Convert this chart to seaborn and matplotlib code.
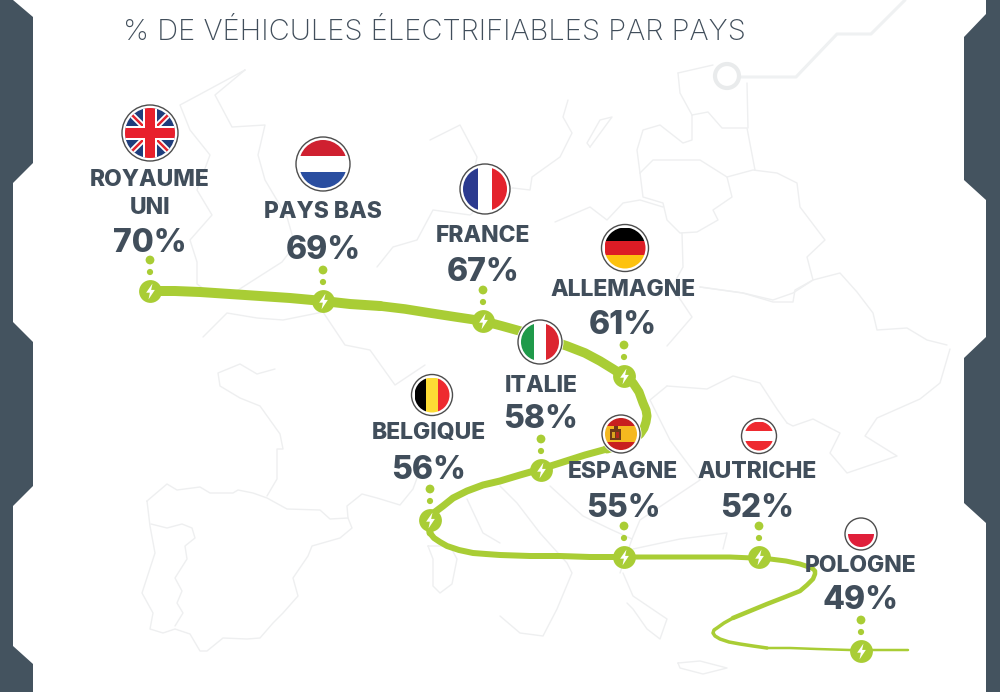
import pandas as pd
import matplotlib.pyplot as plt
from matplotlib.patches import Circle, Polygon, Rectangle
from matplotlib.path import Path
import seaborn as sns

sns.set_theme(style="white")
plt.rcParams['font.family'] = ['Inter', 'DejaVu Sans']

DARK = "#414e5b"
BAND = "#44535f"
GREEN = "#a9cd35"
MAPC = "#eeeff0"

title = "% DE VÉHICULES ÉLECTRIFIABLES PAR PAYS"
countries = ["ROYAUME\nUNI", "PAYS BAS", "FRANCE", "ALLEMAGNE", "ITALIE", "BELGIQUE", "ESPAGNE", "AUTRICHE", "POLOGNE"]
percents = [70, 69, 67, 61, 58, 56, 55, 52, 49]

# stations along the route, picture coordinates
station_x = [150, 323, 483, 624, 541, 430, 624, 759, 861]
station_y = [291, 301, 321, 376, 470, 520, 557, 557, 651]
name_y = [192, 210, 234, 288, 383, 431, 470, 470, 563]
value_y = [240, 247, 269, 322, 416, 467, 505, 505, 597]
label_x = [150, 323, 483, 623, 541, 429, 623, 757, 861]

flag_x = [150, 323, 485, 625, 540, 432, 621, 759, 861]
flag_y = [133, 164, 189, 248, 342, 395, 434, 436, 534]
flag_r = [28, 27, 25, 23.5, 22, 20.5, 19, 17.5, 16]
flag_colors = [
    ["#1f3d7c"],
    ["#cf2030", "#ffffff", "#2a4ea0"],
    ["#2b3a8f", "#ffffff", "#e4232c"],
    ["#000000", "#dd1c25", "#fdc20f"],
    ["#1f9a4a", "#ffffff", "#dc2530"],
    ["#000000", "#fddc35", "#ee2a30"],
    ["#c8201f", "#f5b81f", "#f5b81f", "#c8201f"],
    ["#ee2a30", "#ffffff", "#ee2a30"],
    ["#ffffff", "#e01f3a"],
]
flag_vertical = [False, False, True, False, True, True, False, False, False]

route_x = [
    [150, 175, 200, 230, 260, 290, 323, 350, 380],
    [380, 405, 430, 456, 483, 502, 520, 543, 567, 585, 600, 613, 624],
    [624, 633, 639, 643, 646, 647, 646, 644, 640, 632, 620, 607],
    [607, 585, 560, 541, 520, 500, 483, 467, 453, 443, 435, 430, 429, 430],
    [430, 434, 440, 447, 459, 473, 486, 500, 530, 560, 590, 624],
    [624, 660, 700, 730, 753, 770, 786, 800, 812],
    [812, 815, 815, 813, 807, 800, 785, 767, 750, 733],
    [733, 724, 717, 714, 713, 715, 720, 729, 740, 753, 767],
    [767, 790, 817, 850, 880, 908],
]
route_y = [
    [291, 291, 292, 294, 296, 298, 301, 304, 306],
    [306, 309, 313, 317, 321, 326, 331, 338, 346, 353, 361, 369, 376],
    [376, 383, 392, 403, 410, 416, 422, 428, 434, 440, 445, 449],
    [449, 455, 463, 469, 475, 481, 485, 491, 498, 506, 512, 519, 525, 533],
    [533, 538, 542, 546, 550, 553, 554, 555, 556, 556, 557, 557],
    [557, 557, 557, 557, 558, 559, 561, 564, 568],
    [568, 571, 574, 579, 585, 591, 597, 604, 611, 618],
    [618, 623, 628, 630, 633, 636, 639, 642, 644, 646, 648],
    [648, 648, 649, 650, 650, 650],
]
route_w = [10, 9.5, 9, 7, 6, 5, 4.5, 3.5, 2.5]

band_left = [(0, 0), (13, 0), (33, 17), (33, 163), (13, 183), (13, 322), (33, 342), (33, 486), (13, 506),
             (13, 646), (33, 664), (33, 692), (0, 692)]
band_right = [(1000, 0), (986, 0), (986, 14), (964, 37), (964, 180), (986, 200), (986, 337), (964, 358),
              (964, 503), (986, 523), (986, 692), (1000, 692)]
circuit_x = [740, 796, 837, 871, 905]
circuit_y = [77, 77, 34, 34, 0]

map_lines = [
    [(147, 501), (167, 484), (177, 490), (200, 487), (210, 493), (233, 493), (238, 490), (253, 493), (267, 498),
     (287, 509), (320, 510), (330, 519), (348, 518), (352, 528), (340, 538), (312, 546), (308, 556), (293, 578),
     (298, 596), (283, 613), (273, 623), (260, 638), (247, 639), (223, 638), (207, 651), (200, 651), (190, 634),
     (175, 629), (163, 633), (150, 629), (153, 613), (142, 593), (155, 553), (150, 526), (147, 501)],
    [(151, 524), (167, 528), (182, 524), (192, 528), (195, 538), (185, 546), (187, 559), (175, 578), (182, 591),
     (177, 603), (183, 613), (175, 626)],
    [(275, 369), (257, 374), (240, 364), (218, 373), (220, 386), (240, 398), (260, 406), (280, 434), (283, 449),
     (277, 449), (277, 479), (267, 496)],
    [(348, 518), (347, 506), (362, 494), (377, 498), (400, 505), (413, 489), (420, 470)],
    [(428, 546), (433, 559), (433, 586), (440, 593), (452, 584), (457, 559), (450, 546), (428, 546)],
    [(245, 70), (215, 95), (232, 127), (265, 125), (258, 155), (265, 180), (287, 217), (295, 245), (282, 262),
     (235, 292), (215, 297), (197, 284), (197, 262), (190, 240), (212, 215), (197, 190), (210, 155), (190, 130),
     (180, 105), (195, 97), (245, 70)],
    [(203, 337), (227, 313), (257, 318), (283, 320), (323, 312), (345, 345), (370, 350), (395, 385), (425, 365)],
    [(377, 267), (393, 247), (417, 240), (433, 210), (470, 215), (500, 190), (513, 188)],
    [(430, 140), (460, 125), (477, 157), (470, 190)],
    [(640, 173), (653, 160), (700, 160), (727, 177), (753, 170), (777, 173), (797, 183), (800, 207), (825, 240),
     (807, 257), (813, 280), (793, 293), (773, 300), (743, 293), (700, 287)],
    [(640, 173), (643, 197), (663, 203), (667, 220), (680, 233), (697, 232), (718, 220), (713, 210), (732, 197),
     (727, 177)],
    [(682, 233), (683, 267), (672, 287), (692, 317), (667, 346)],
    [(692, 115), (708, 112), (722, 128), (747, 128), (755, 170)],
    [(692, 115), (692, 140), (683, 143), (660, 125), (643, 130), (637, 150), (640, 173)],
    [(678, 73), (680, 93), (692, 115)],
    [(678, 73), (713, 65)],
    [(747, 83), (748, 128)],
    [(568, 100), (563, 117), (572, 133), (560, 157), (532, 177), (530, 190), (513, 188)],
    [(590, 147), (612, 117), (600, 120), (587, 143), (590, 147)],
    [(555, 222), (590, 207), (607, 220), (623, 203), (640, 200), (663, 207)],
    [(700, 287), (743, 293), (773, 302), (793, 302), (795, 290), (813, 280), (840, 273), (857, 292), (873, 313),
     (877, 330), (907, 328), (927, 340), (947, 345)],
    [(667, 386), (707, 389), (733, 376), (760, 383), (777, 409), (787, 423)],
    [(950, 349), (940, 383), (920, 399), (877, 418), (865, 436), (897, 456), (847, 473), (830, 453), (840, 433),
     (813, 419), (793, 426), (787, 423)],
    [(623, 573), (633, 596), (667, 619), (660, 639), (647, 629), (633, 609), (627, 603)],
    [(678, 663), (700, 661), (727, 668), (703, 674), (680, 668), (678, 663)],
    [(633, 549), (680, 539), (727, 533), (723, 549)],
    [(500, 486), (517, 503), (540, 533), (567, 563), (572, 573), (557, 609), (543, 636), (520, 633), (500, 616)],
    [(467, 499), (483, 533), (500, 543)],
    [(550, 486), (583, 516), (610, 529), (632, 539), (620, 573)],
    [(667, 386), (650, 400), (670, 440), (700, 480), (670, 500), (640, 520), (632, 539)],
]

bolt = Path([(0.25, 1), (-0.55, -0.15), (-0.08, -0.15), (-0.25, -1), (0.55, 0.2), (0.08, 0.2), (0.25, 1)])


def draw_flag(ax, i):
    cx, cy, r = flag_x[i], flag_y[i], flag_r[i]
    ax.add_patch(Circle((cx, cy), r + 1.5, fc="white", ec="none", zorder=6))
    ax.add_patch(Circle((cx, cy), r, fc="white", ec="#4d4d4d", lw=1, zorder=6))
    inner = r - 3
    clip = Circle((cx, cy), inner, fc="none", ec="none", zorder=7)
    ax.add_patch(clip)
    colors = flag_colors[i]
    step = 2 * inner / len(colors)
    for k, c in enumerate(colors):
        if flag_vertical[i]:
            p = Rectangle((cx - inner + k * step, cy - inner), step, 2 * inner, fc=c, ec="none", zorder=7)
        else:
            p = Rectangle((cx - inner, cy - inner + k * step), 2 * inner, step, fc=c, ec="none", zorder=7)
        ax.add_patch(p)
        p.set_clip_path(clip)
    if i == 0:
        # union jack
        for dx, dy, w, c in [(1, 1, 6, "white"), (1, -1, 6, "white"), (1, 1, 2.5, "#e4232c"), (1, -1, 2.5, "#e4232c"),
                             (1, 0, 14, "white"), (0, 1, 14, "white"), (1, 0, 10, "#e8202c"), (0, 1, 10, "#e8202c")]:
            ln, = ax.plot([cx - dx * r, cx + dx * r], [cy - dy * r, cy + dy * r], color=c, lw=w * 0.72, zorder=8,
                          solid_capstyle="butt")
            ln.set_clip_path(clip)
    if i == 6:
        # small coat of arms
        ax.add_patch(Rectangle((cx - 11, cy - 5), 11, 11, fc="#6e3a17", ec="none", zorder=8))
        ax.add_patch(Rectangle((cx - 9, cy - 2), 3, 6, fc="#d9a520", ec="none", zorder=8))
        ax.add_patch(Rectangle((cx - 5, cy - 2), 3, 6, fc="#b5281e", ec="none", zorder=8))
        ax.add_patch(Rectangle((cx - 7, cy - 8), 4, 3, fc="#6e3a17", ec="none", zorder=8))


fig = plt.figure(figsize=(10, 6.92), dpi=100, facecolor="white")
ax = fig.add_axes([0, 0, 1, 1])
ax.set_xlim(0, 1000)
ax.set_ylim(692, 0)
ax.axis("off")

for line in map_lines:
    df = pd.DataFrame(line, columns=["x", "y"])
    sns.lineplot(data=df, x="x", y="y", sort=False, estimator=None, color=MAPC, lw=1, ax=ax, zorder=1)

sns.lineplot(x=circuit_x, y=circuit_y, sort=False, estimator=None, color="#eff1f2", lw=2.2, ax=ax, zorder=1)
ax.add_patch(Circle((727, 76), 12, fc="white", ec="#e9ebec", lw=3, zorder=2))

ax.add_patch(Polygon(band_left, fc=BAND, ec="none", zorder=3))
ax.add_patch(Polygon(band_right, fc=BAND, ec="none", zorder=3))

for xs, ys, w in zip(route_x, route_y, route_w):
    sns.lineplot(x=xs, y=ys, sort=False, estimator=None, color=GREEN, lw=w * 0.72, ax=ax, zorder=4,
                 solid_capstyle="round", solid_joinstyle="round")

for sx, sy in zip(station_x, station_y):
    sns.scatterplot(x=[sx, sx], y=[sy - 31, sy - 19], size=[0, 1], sizes=(20, 40), color=GREEN,
                    linewidth=0, legend=False, ax=ax, zorder=4)
sns.scatterplot(x=station_x, y=station_y, color=GREEN, s=270, linewidth=0, ax=ax, zorder=5)
sns.scatterplot(x=station_x, y=station_y, color="white", s=130, marker=bolt, linewidth=0, ax=ax, zorder=5.5)

for i in range(len(countries)):
    draw_flag(ax, i)

for i, name in enumerate(countries):
    if "\n" in name:
        first, second = name.split("\n")
        ax.text(label_x[i], 178, first, ha="center", va="center_baseline", fontsize=16.5, fontweight=800, color=DARK, zorder=9)
        ax.text(label_x[i], 206, second, ha="center", va="center_baseline", fontsize=16.5, fontweight=800, color=DARK, zorder=9)
    else:
        ax.text(label_x[i], name_y[i], name, ha="center", va="center_baseline", fontsize=16.5, fontweight=800, color=DARK, zorder=9)
    ax.text(label_x[i], value_y[i], f"{percents[i]}%", ha="center", va="center_baseline", fontsize=23, fontweight=800,
            color=DARK, zorder=9)

ax.text(123, 29, title, ha="left", va="center_baseline", fontsize=21, fontweight="light", color=DARK, zorder=9)

fig.savefig("out.png", dpi=100)
